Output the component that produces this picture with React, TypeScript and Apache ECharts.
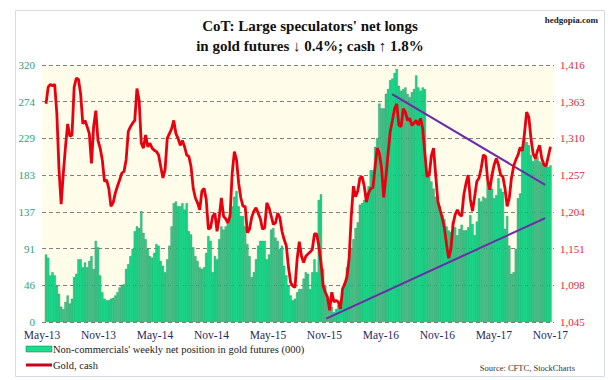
import React, { useEffect, useRef } from "react";
import * as echarts from "echarts";

// Half-year tick labels on the time axis
const xLabels = ["May-13", "Nov-13", "May-14", "Nov-14", "May-15", "Nov-15", "May-16", "Nov-16", "May-17", "Nov-17"];
// Left axis tick labels (net longs, 000 contracts)
const leftTicks = [0, 46, 91, 137, 183, 229, 274, 320];
// Right axis tick labels (gold, $/oz)
const rightTicks = [1045, 1098, 1151, 1204, 1257, 1310, 1363, 1416];

const axisStartDate = "2013-05-01";
const firstWeekDate = "2013-05-14";

// Non-commercials' weekly net position in gold futures (000), one value per week
const netLongs = [
  84, 80, 58, 62, 58, 45, 35, 19, 16, 25, 33, 23, 29, 56, 60, 78, 78, 68, 74, 68,
  76, 82, 66, 101, 93, 58, 37, 29, 27, 27, 29, 30, 33, 37, 43, 46, 47, 66,
  72, 82, 91, 113, 119, 117, 138, 111, 103, 91, 82, 80, 86, 97, 95, 76, 70, 62, 78, 95,
  119, 148, 150, 144, 144, 148, 140, 148, 113, 109, 93, 82, 76, 68, 66, 68, 86, 107, 101, 62,
  82, 78, 103, 119, 115, 119, 128, 134, 144, 156, 163, 144, 132, 132, 119, 97, 82, 56, 62, 78,
  95, 101, 101, 101, 78, 84, 115, 117, 105, 101, 91, 95, 70, 58, 45, 33, 27, 29, 37,
  41, 41, 54, 62, 60, 41, 62, 78, 62, 152, 159, 66, 45, 29, 23, 19, 12, 16, 21, 25,
  37, 49, 68, 78, 91, 103, 117, 124, 146, 148, 152, 161, 169, 189, 189, 218, 229, 272, 266, 266,
  284, 290, 301, 303, 310, 315, 294, 288, 290, 292, 284, 280, 286, 290, 307, 292, 288, 292, 290,
  185, 181, 175, 166, 156, 150, 144, 133, 128, 119, 114, 112, 125, 118, 108, 116, 121, 114, 114, 118,
  133, 122, 108, 125, 154, 150, 156, 154, 175, 170, 166, 154, 158, 179, 166, 162, 116, 132, 95, 60,
  62, 91, 154, 160, 216, 229, 224, 220, 208, 200, 204, 206, 200, 198, 195, 195, 193, 195
];

// Gold, cash ($/oz), one value per week
const goldCash = [
  1360, 1384, 1388, 1386, 1388, 1346, 1265, 1215, 1260, 1298, 1331, 1313, 1315, 1384, 1397, 1395, 1374, 1331, 1336, 1327,
  1317, 1274, 1327, 1350, 1307, 1296, 1279, 1248, 1250, 1238, 1212, 1217, 1231, 1241, 1250, 1260, 1262, 1279, 1320,
  1327, 1332, 1336, 1382, 1365, 1303, 1296, 1315, 1298, 1303, 1296, 1293, 1291, 1286, 1269, 1253, 1265, 1310, 1317, 1324,
  1336, 1317, 1310, 1300, 1307, 1298, 1286, 1284, 1269, 1238, 1224, 1217, 1207, 1234, 1238, 1222, 1179, 1181, 1198,
  1202, 1176, 1196, 1224, 1198, 1194, 1188, 1198, 1260, 1291, 1279, 1245, 1224, 1212, 1212, 1174, 1179, 1196, 1205, 1210,
  1202, 1194, 1179, 1181, 1217, 1210, 1198, 1186, 1188, 1202, 1196, 1176, 1164, 1155, 1124, 1102, 1097, 1095, 1136,
  1161, 1140, 1131, 1140, 1143, 1146, 1150, 1172, 1172, 1155, 1131, 1097, 1088, 1081, 1062, 1088, 1074, 1076, 1074, 1064,
  1093, 1100, 1110, 1136, 1198, 1241, 1226, 1234, 1253, 1255, 1241, 1218, 1231, 1238, 1239, 1269, 1296, 1288, 1267, 1225,
  1255, 1288, 1320, 1336, 1353, 1360, 1329, 1327, 1353, 1348, 1336, 1339, 1329, 1332, 1336, 1329, 1339, 1324, 1288,
  1255, 1257, 1285, 1296, 1257, 1219, 1207, 1196, 1181, 1157, 1137, 1150, 1186, 1200, 1207, 1200, 1198, 1229, 1245, 1257,
  1222, 1205, 1226, 1248, 1253, 1267, 1286, 1284, 1250, 1236, 1257, 1272, 1281, 1272, 1257, 1255, 1238, 1212, 1224, 1253,
  1270, 1279, 1286, 1297, 1292, 1317, 1348, 1341, 1310, 1288, 1281, 1292, 1300, 1281, 1272, 1270, 1284, 1298
];

// Trend lines on gold (date, price)
const trendDownDates = ["2016-06-06", "2017-10-14"];
const trendDownValues = [1374, 1243];
const trendUpDates = ["2015-11-06", "2017-10-14"];
const trendUpValues = [1050, 1195];

const DAY = 86400000;
const WEEK = 7 * DAY;
const HALF_YEAR_WEEKS = 365.25 / 14;
const t0 = Date.parse(axisStartDate + "T00:00:00Z");
const dateToWeeks = (d: string) => (Date.parse(d + "T00:00:00Z") - t0) / WEEK;
const firstX = dateToWeeks(firstWeekDate);

const GREEN = "#1fdb8e";
const GREEN_EDGE = "#0a7a45";
const RED = "#e8000f";
const PURPLE = "#6a2ca8";
const SERIF = "'Liberation Serif', 'DejaVu Serif', serif";

export default function App() {
  const ref = useRef<HTMLDivElement>(null);
  useEffect(() => {
    if (!ref.current) return;
    const chart = echarts.init(ref.current, null, { renderer: "svg" });
    const barData = netLongs.map((v, i) => [firstX + i, v]);
    const goldData = goldCash.map((v, i) => [firstX + i, v]);
    const downData = trendDownDates.map((d, i) => [dateToWeeks(d), trendDownValues[i]]);
    const upData = trendUpDates.map((d, i) => [dateToWeeks(d), trendUpValues[i]]);
    chart.setOption({
      animation: false,
      backgroundColor: "#ffffff",
      grid: {
        left: 42,
        right: 57,
        top: 65,
        bottom: 58,
        show: true,
        backgroundColor: "#fffcea",
        borderWidth: 0,
      },
      xAxis: {
        type: "value",
        min: 0,
        max: 236.5,
        interval: HALF_YEAR_WEEKS,
        axisLine: { show: false },
        axisTick: { show: false },
        splitLine: { show: false },
        axisLabel: {
          show: true,
          margin: 7,
          color: "#1f2a5a",
          fontFamily: SERIF,
          fontSize: 11.5,
          showMinLabel: true,
          showMaxLabel: true,
          formatter: (v: number) => {
            const k = v / HALF_YEAR_WEEKS;
            const r = Math.round(k);
            return Math.abs(k - r) < 1e-3 && r < xLabels.length ? xLabels[r] : "";
          },
        },
      },
      yAxis: [
        {
          type: "value",
          position: "left",
          min: leftTicks[0],
          max: leftTicks[leftTicks.length - 1],
          axisLine: { show: false },
          axisTick: { show: false },
          splitLine: { show: false },
          axisLabel: {
            customValues: leftTicks,
            color: "#2f9e77",
            fontFamily: SERIF,
            fontSize: 11,
            margin: 7,
            formatter: (v: number) => String(Math.round(v)),
          },
        },
        {
          type: "value",
          position: "right",
          min: rightTicks[0],
          max: rightTicks[rightTicks.length - 1],
          interval: rightTicks[1] - rightTicks[0],
          axisLine: { show: false },
          axisTick: { show: false },
          splitLine: {
            show: true,
            lineStyle: { color: "#808080", type: [4, 3], width: 1 },
          },
          axisLabel: {
            color: "#e0283a",
            fontFamily: SERIF,
            fontSize: 11,
            margin: 6,
            formatter: (v: number) => Math.round(v).toLocaleString("en-US"),
          },
        },
      ],
      series: [
        {
          type: "bar",
          name: "Non-commercials' weekly net position in gold futures (000)",
          xAxisIndex: 0,
          yAxisIndex: 0,
          data: barData,
          barWidth: 2.17,
          itemStyle: { color: GREEN, borderColor: GREEN_EDGE, borderWidth: 0.35 },
          z: 2,
        },
        {
          type: "line",
          name: "Trend down",
          yAxisIndex: 1,
          data: downData,
          symbol: "none",
          lineStyle: { color: PURPLE, width: 2 },
          z: 3,
        },
        {
          type: "line",
          name: "Trend up",
          yAxisIndex: 1,
          data: upData,
          symbol: "none",
          lineStyle: { color: PURPLE, width: 2 },
          z: 3,
        },
        {
          type: "line",
          name: "Gold, cash",
          yAxisIndex: 1,
          data: goldData,
          symbol: "none",
          lineStyle: { color: RED, width: 2.8 },
          z: 4,
        },
      ],
      graphic: [
        {
          type: "rect",
          shape: { x: 15.5, y: 10.5, width: 589, height: 366 },
          style: { fill: "none", stroke: "#d6dbe3", lineWidth: 1 },
          silent: true,
        },
        {
          type: "text",
          x: 310,
          y: 26,
          style: {
            text: "CoT: Large speculators' net longs",
            font: "bold 15px " + SERIF,
            fill: "#111111",
            align: "center",
            verticalAlign: "middle",
          },
        },
        {
          type: "text",
          x: 310,
          y: 46,
          style: {
            text: "in gold futures \u2193 0.4%; cash \u2191 1.8%",
            font: "bold 15px " + SERIF,
            fill: "#111111",
            align: "center",
            verticalAlign: "middle",
          },
        },
        {
          type: "text",
          x: 598,
          y: 20,
          style: {
            text: "hedgopia.com",
            font: "bold 9px " + SERIF,
            fill: "#222222",
            align: "right",
            verticalAlign: "middle",
          },
        },
        {
          type: "rect",
          shape: { x: 26, y: 346, width: 26, height: 6 },
          style: { fill: GREEN, stroke: GREEN_EDGE, lineWidth: 0.5 },
        },
        {
          type: "text",
          x: 53,
          y: 349,
          style: {
            text: "Non-commercials' weekly net position in gold futures (000)",
            font: "10.5px " + SERIF,
            fill: "#1a1a1a",
            align: "left",
            verticalAlign: "middle",
          },
        },
        {
          type: "line",
          shape: { x1: 26, y1: 365, x2: 52, y2: 365 },
          style: { stroke: "#c8001a", lineWidth: 3 },
        },
        {
          type: "text",
          x: 53,
          y: 365,
          style: {
            text: "Gold, cash",
            font: "10.5px " + SERIF,
            fill: "#1a1a1a",
            align: "left",
            verticalAlign: "middle",
          },
        },
        {
          type: "text",
          x: 575,
          y: 368,
          style: {
            text: "Source: CFTC, StockCharts",
            font: "8.5px " + SERIF,
            fill: "#333333",
            align: "right",
            verticalAlign: "middle",
          },
        },
      ],
    });
    return () => chart.dispose();
  }, []);
  return (
    <div
      ref={ref}
      style={{ position: "absolute", left: 0, top: 0, width: 611, height: 380, background: "#ffffff" }}
    />
  );
}
